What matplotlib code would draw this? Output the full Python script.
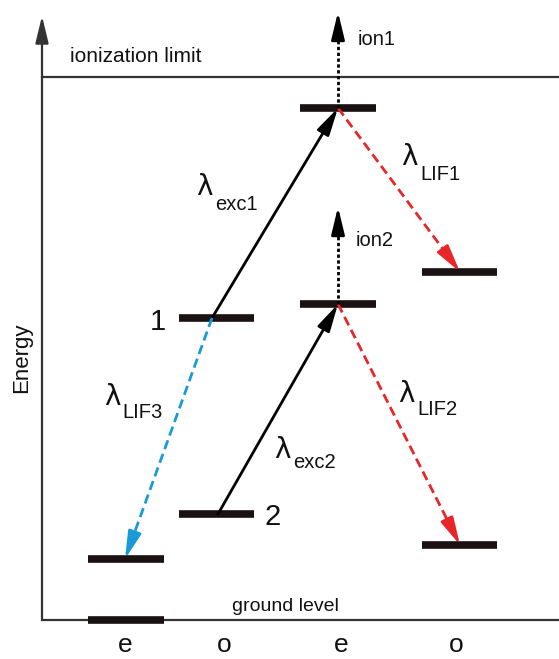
import matplotlib
matplotlib.use("Agg")
import matplotlib.pyplot as plt
from matplotlib.patches import FancyArrowPatch
import numpy as np

# ---------------- data ----------------
parity_labels = ["e", "o", "e", "o"]
parity_x = [125, 224, 341, 456]

# energy levels (energy units, ground = 0)
level_names = ["ground", "e_low", "1", "2", "up1", "up2", "o_up", "o_low"]
level_left = [88, 88, 179, 179, 300, 300, 422, 422]
level_right = [164, 164, 254, 254, 376, 376, 497, 497]
level_energy = [0, 61, 302, 106, 512, 316, 348, 75]
ionization_energy = 543
axis_top_energy = 604

# transitions: (x_from, E_from, x_to, E_to)
exc_from_x = [212, 218]
exc_from_E = [302, 106]
exc_to_x = [338, 338]
exc_to_E = [512, 316]

lif_from_x = [338, 338, 212]
lif_from_E = [512, 316, 302]
lif_to_x = [460, 460, 125]
lif_to_E = [348, 75, 61]
lif_colors = ["#e8262a", "#e8262a", "#1a9ad6"]

ion_x = [338, 338]
ion_from_E = [512, 316]
ion_to_E = [608, 413]

FONT = "Liberation Sans"
DARK = "#1a1212"
AXC = "#333333"

fig = plt.figure(figsize=(5.59, 6.59), dpi=100)
ax = fig.add_axes([0, 0, 1, 1])
ax.set_xlim(0, 559)
ax.set_ylim(-39, 620)
ax.axis("off")

HL = 16.5  # head length in points
HW = 4.0


def head(x0, y0, x1, y1, color, lw=2.0):
    d = np.hypot(x1 - x0, y1 - y0)
    L = HL * 100 / 72
    bx = x1 - (x1 - x0) / d * L
    by = y1 - (y1 - y0) / d * L
    p = FancyArrowPatch((bx, by), (x1, y1),
                        arrowstyle=f"-|>,head_length={HL},head_width={HW}",
                        mutation_scale=1, lw=lw, color=color,
                        shrinkA=0, shrinkB=0, zorder=5)
    ax.add_patch(p)
    return bx, by


# axes lines
ax.plot([42, 559], [0, 0], color=AXC, lw=1.6, solid_capstyle="butt", zorder=1)
ax.plot([42, 42], [0, axis_top_energy - 20], color=AXC, lw=1.6, zorder=1)
head(42, 0, 42, axis_top_energy, AXC, lw=1.6)
ax.plot([42, 559], [ionization_energy, ionization_energy], color=AXC, lw=1.6, zorder=1)

# levels
for l, r, e in zip(level_left, level_right, level_energy):
    ax.plot([l, r], [e, e], color=DARK, lw=5.5, solid_capstyle="butt", zorder=3)

# excitation arrows
for x0, e0, x1, e1 in zip(exc_from_x, exc_from_E, exc_to_x, exc_to_E):
    bx, by = head(x0, e0, x1, e1, "black")
    ax.plot([x0, bx], [e0, by], color="black", lw=2.0, zorder=4)

# LIF arrows
for x0, e0, x1, e1, c in zip(lif_from_x, lif_from_E, lif_to_x, lif_to_E, lif_colors):
    bx, by = head(x0, e0, x1, e1, c)
    ax.plot([x0, bx], [e0, by], color=c, lw=2.0, dashes=(3.4, 1.8), zorder=4)

# ionization arrows
for x, e0, e1 in zip(ion_x, ion_from_E, ion_to_E):
    bx, by = head(x, e0, x, e1, "black")
    ax.plot([x, bx], [e0, by], color="black", lw=2.0, dashes=(1.2, 0.9), zorder=4)

# texts
def T(x, y, s, size, **kw):
    ax.text(x, y, s, fontsize=size, family=FONT, color="#111111", **kw)

T(70, 620 - 62, "ionization limit", 15, ha="left", va="baseline")
T(358, 620 - 45, "ion1", 14.5, ha="left", va="baseline")
T(356, 620 - 246, "ion2", 14.5, ha="left", va="baseline")
T(285, 620 - 611, "ground level", 14, ha="center", va="baseline")
T(22, 620 - 358, "Energy", 16, ha="center", va="center", rotation=90)
T(158, 620 - 330, "1", 21, ha="center", va="baseline")
T(273, 620 - 525, "2", 21, ha="center", va="baseline")
for x, s in zip(parity_x, parity_labels):
    T(x, 620 - 652, s, 19, ha="center", va="baseline")

lam = [("exc1", 196, 195, 215, 210),
       ("LIF1", 401, 165, 420, 180),
       ("LIF2", 398, 402, 417, 415),
       ("exc2", 274, 458, 293, 468),
       ("LIF3", 104, 405, 122, 418)]
for sub, lx, ly, sx, sy in lam:
    ax.text(lx, 620 - ly, "λ", fontsize=20, family="DejaVu Sans", color="#111111",
            ha="left", va="baseline")
    T(sx, 620 - sy, sub, 14.5, ha="left", va="baseline")

fig.savefig("out.png", dpi=100)
